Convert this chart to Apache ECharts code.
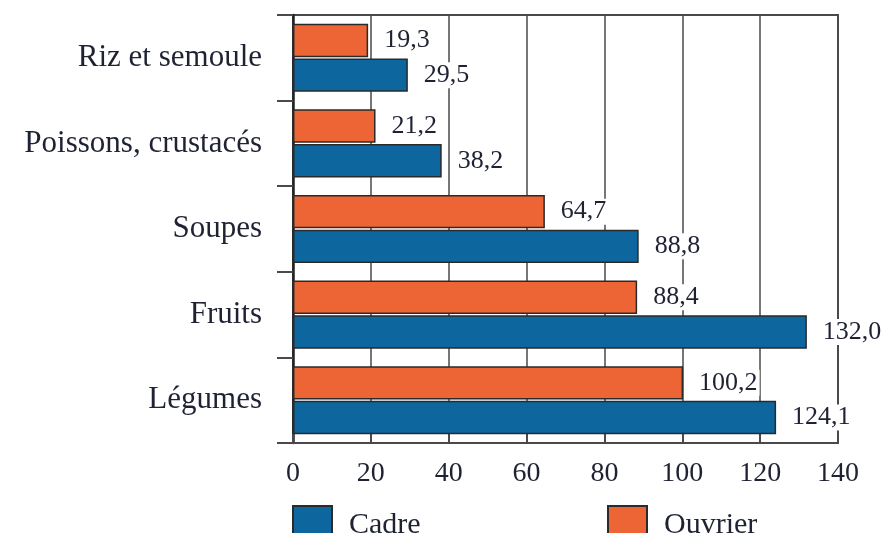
<!DOCTYPE html>
<html>
<head>
<meta charset="utf-8">
<script src="https://cdn.jsdelivr.net/npm/echarts@6/dist/echarts.min.js"></script>
<style>
  html, body { margin: 0; padding: 0; background: #fff; }
  #chart { width: 885px; height: 533px; }
</style>
</head>
<body>
<div id="chart"></div>
<script>
const categories = ['Riz et semoule', 'Poissons, crustacés', 'Soupes', 'Fruits', 'Légumes']
const cadre = [29.5, 38.2, 88.8, 132.0, 124.1]
const ouvrier = [19.3, 21.2, 64.7, 88.4, 100.2]
const xTicks = [0, 20, 40, 60, 80, 100, 120, 140]

const font = '"Liberation Serif", "DejaVu Serif", serif'
const ink = '#1f2233'
const axisGrey = '#4a4a4a'

let myChart = echarts.init(document.getElementById('chart'))

function valueLabel() {
  return {
    show: true,
    position: 'right',
    distance: 14,
    color: ink,
    fontFamily: font,
    fontSize: 26,
    backgroundColor: '#fff',
    padding: [0, 2],
    formatter: p => p.value.toFixed(1).replace('.', ',')
  }
}

function legendAt(name, left) {
  return {
    data: [name],
    icon: 'rect',
    left: left,
    top: 505,
    padding: 0,
    itemWidth: 39,
    itemHeight: 38,
    itemGap: 0,
    textStyle: { fontFamily: font, fontSize: 30, color: ink, padding: [0, 0, 12, 12] }
  }
}

let option = {
  animation: false,
  grid: {
    left: 293,
    right: 47,
    top: 15,
    bottom: 90,
    show: true,
    borderColor: axisGrey,
    borderWidth: 2
  },
  legend: [legendAt('Cadre', 292), legendAt('Ouvrier', 607)],
  xAxis: {
    type: 'value',
    min: 0,
    max: 140,
    interval: 20,
    axisLine: { show: true, lineStyle: { color: axisGrey, width: 2 } },
    axisTick: { show: true, inside: true, length: 9, lineStyle: { color: axisGrey, width: 2 } },
    splitLine: { show: true, lineStyle: { color: axisGrey, width: 1.5 } },
    axisLabel: {
      margin: 17,
      color: ink,
      fontFamily: font,
      fontSize: 28,
      formatter: v => xTicks.includes(v) ? String(v) : ''
    }
  },
  yAxis: {
    type: 'category',
    inverse: true,
    data: categories,
    axisLine: { show: true, lineStyle: { color: '#222', width: 2.5 } },
    axisTick: { show: true, length: 16, lineStyle: { color: axisGrey, width: 2 } },
    axisLabel: {
      margin: 31,
      color: ink,
      fontFamily: font,
      fontSize: 31
    }
  },
  series: [
    {
      name: 'Ouvrier',
      type: 'bar',
      data: ouvrier,
      barWidth: '39%',
      barGap: '4%',
      barCategoryGap: '20%',
      itemStyle: { color: '#ee6535', borderColor: '#2a2a2a', borderWidth: 1.5 },
      label: valueLabel()
    },
    {
      name: 'Cadre',
      type: 'bar',
      data: cadre,
      barWidth: '39%',
      barGap: '4%',
      barCategoryGap: '20%',
      itemStyle: { color: '#0d669d', borderColor: '#2a2a2a', borderWidth: 1.5 },
      label: valueLabel()
    }
  ]
}
option && myChart.setOption(option)
</script>
</body>
</html>
